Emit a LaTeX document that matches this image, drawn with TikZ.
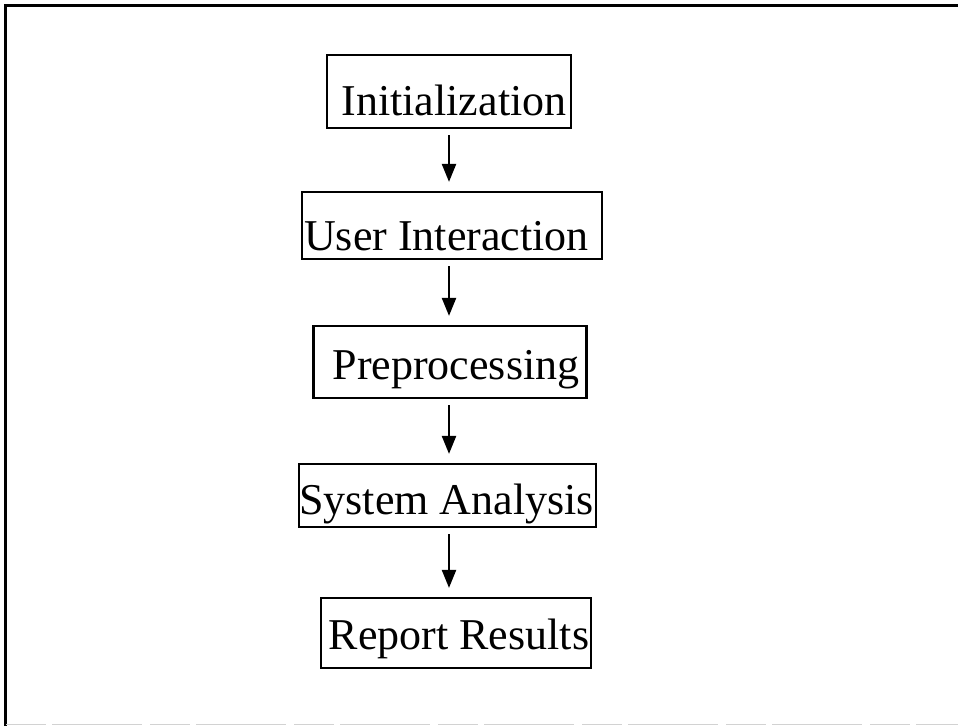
\documentclass[tikz,border=0pt]{standalone}
\usepackage{fontspec}
\setmainfont{Liberation Serif}
\usetikzlibrary{arrows.meta}

\tikzset{
  stagebox/.style={draw=black, line width=2.2pt, rectangle, inner sep=0pt,
    font=\fontsize{44}{50}\selectfont, text=black, text depth=0pt},
  flowarrow/.style={line width=2.3pt, -{Triangle[length=18pt,width=14pt]},
    shorten <=6pt, shorten >=9pt},
  frameline/.style={line width=3pt, black},
}

\begin{document}
\begin{tikzpicture}[x=1pt, y=-1pt]
  \useasboundingbox (0,0) rectangle (958,726);

  % outer frame: left and top edges, faint bottom rule
  \draw[frameline] (5.5,726) -- (5.5,5.5) -- (958,5.5);
  \draw[gray!35, line width=1.5pt, dash pattern=on 40pt off 6pt on 90pt off 8pt]
    (6,724.5) -- (958,724.5);

  % process stages (text height sets where the baseline sits in each box)
  \node[stagebox, minimum width=244pt, minimum height=73pt, text height=48pt]
    (init)   at (449,91.5)  {\hspace*{10pt}Initialization};
  \node[stagebox, minimum width=300pt, minimum height=67pt, text height=50pt]
    (user)   at (452,225.5) {User Interaction\hspace*{11pt}};
  \node[stagebox, minimum width=273pt, minimum height=72pt, text height=34pt]
    (prep)   at (450,362)   {\hspace*{12pt}Preprocessing};
  \node[stagebox, minimum width=296pt, minimum height=63pt, text height=38pt]
    (sysan)  at (447.5,495.5) {System Analysis\hspace*{2pt}};
  \node[stagebox, minimum width=270pt, minimum height=70pt, text height=32pt]
    (report) at (456,633)   {\hspace*{6pt}Report Results};

  % common vertical axis for the arrows
  \coordinate (ax) at (449,0);

  \draw[flowarrow] (init.south -| ax)  -- (user.north -| ax);
  \draw[flowarrow] (user.south -| ax)  -- (prep.north -| ax);
  \draw[flowarrow] (prep.south -| ax)  -- (sysan.north -| ax);
  \draw[flowarrow] (sysan.south -| ax) -- (report.north -| ax);
\end{tikzpicture}
\end{document}
